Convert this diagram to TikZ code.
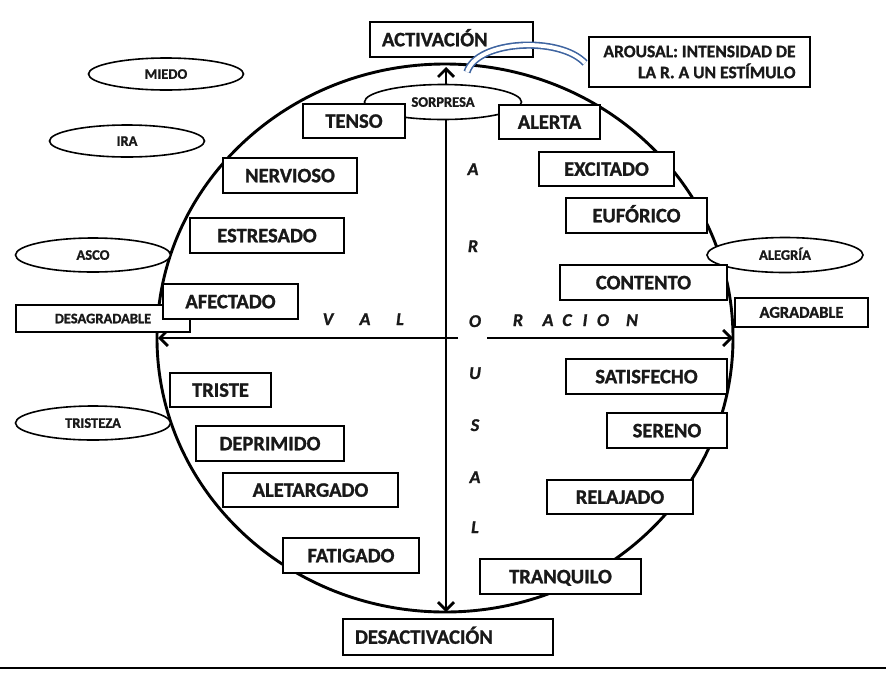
\documentclass[tikz,border=0pt]{standalone}
\usepackage{fontspec}
\setmainfont{Carlito}[BoldFeatures={FakeBold=1.2},BoldItalicFeatures={FakeBold=1.2}]
\usetikzlibrary{arrows.meta,shapes.geometric}
\definecolor{arrowblue}{RGB}{62,100,160}
\definecolor{ink}{RGB}{25,25,25}
\tikzset{
 frame/.style={draw, line width=2.1pt, fill=white, inner sep=0pt, outer sep=0pt, text=ink},
 box/.style={frame, font=\bfseries\fontsize{20.5}{24}\selectfont, text height=13.5pt, text depth=0pt},
 small/.style={frame, line width=1.6pt, font=\bfseries\fontsize{14.5}{16}\selectfont, text height=9.5pt, text depth=0pt},
 emo/.style={draw, ellipse, line width=1.6pt, fill=white, inner sep=0pt, text=ink, font=\bfseries\fontsize{14.5}{16}\selectfont, text height=9.5pt, text depth=0pt},
 barb/.tip={Straight Barb[length=8pt,width=16pt,line width=2.8pt]},
 axis/.style={line width=2.9pt, -barb},
 axisboth/.style={line width=2.9pt, barb-barb},
 ltr/.style={font=\bfseries\itshape\fontsize{18}{20}\selectfont, inner sep=0pt, text height=12pt, text depth=0pt, text=ink},
 rim/.style={line width=2.9pt},
}
\newcommand\mybox[7][box]{\node[#1,minimum width={(#5-#3)*1pt},minimum height={(#6-#4)*1pt}] (#2) at ({(#3+#5)/2},{(#4+#6)/2}) {#7};}
\begin{document}
\begin{tikzpicture}[x=1pt,y=-1pt]
\useasboundingbox (0,0) rectangle (886,673);
% outer circle
\draw[rim] (445,338) ellipse [x radius=288pt, y radius=274pt];
% axes
\coordinate (N) at (446,67);
\coordinate (S) at (446,612);
\coordinate (W) at (158,338);
\coordinate (E) at (733,338);
\coordinate (gl) at (458,338);
\coordinate (gr) at (487,338);
\draw[axisboth] (S) -- (N);
\draw[axis] (gl) -- (W);
\draw[axis] (gr) -- (E);
% bottom rule
\coordinate (r1) at (0,668);
\coordinate (r2) at (886,668);
\draw[line width=2pt] (r1) -- (r2);
% ellipses
\node[emo, minimum width=155pt, minimum height=32pt] (miedo) at (166,74) {MIEDO};
\node[emo, minimum width=155pt, minimum height=32pt] (ira) at (127,141) {IRA};
\node[emo, minimum width=155pt, minimum height=34pt] (asco) at (93,255) {ASCO};
\node[emo, minimum width=155pt, minimum height=34pt] (tristeza) at (93,423) {TRISTEZA};
\node[emo, minimum width=157pt, minimum height=35pt] (sorpresa) at (443,102) {SORPRESA};
\node[emo, minimum width=156pt, minimum height=35pt] (alegria) at (785,255) {ALEGRÍA};
% boxes
\node[box, minimum height=35pt, text width=139pt, inner xsep=12pt, align=left] (act) at (451.5,39.5) {ACTIVACIÓN};
\node[box, minimum height=36pt, text width=186pt, inner xsep=12pt, align=left] (desact) at (448,637) {DESACTIVACIÓN};
\node[frame, minimum width=221pt, minimum height=50pt, align=right,
      font=\bfseries\fontsize{17.5}{21}\selectfont] (arousal) at (699.5,62) {AROUSAL: INTENSIDAD DE\\LA R. A UN ESTÍMULO};
\mybox[small]{desag}{16}{305}{190}{332}{DESAGRADABLE}
\mybox[small,font=\bfseries\fontsize{16.5}{18}\selectfont,text height=10.5pt]{agrad}{735}{298}{868}{327}{AGRADABLE}
\mybox{tenso}{303}{104}{405}{138}{TENSO}
\mybox{alerta}{499}{105}{600}{139}{ALERTA}
\mybox{nervioso}{223}{158}{357}{193}{NERVIOSO}
\mybox{excitado}{539}{152}{674}{186}{EXCITADO}
\mybox{euforico}{566}{198}{707}{233}{EUFÓRICO}
\mybox{estresado}{190}{218}{344}{253}{ESTRESADO}
\mybox{contento}{560}{265}{727}{300}{CONTENTO}
\mybox{afectado}{163}{284}{298}{319}{AFECTADO}
\mybox{satisfecho}{566}{359}{727}{394}{SATISFECHO}
\mybox{triste}{170}{373}{271}{407}{TRISTE}
\mybox{sereno}{607}{413}{727}{448}{SERENO}
\mybox{deprimido}{196}{426}{344}{461}{DEPRIMIDO}
\mybox{aletargado}{223}{473}{398}{507}{ALETARGADO}
\mybox{relajado}{547}{480}{693}{514}{RELAJADO}
\mybox{fatigado}{283}{538}{419}{573}{FATIGADO}
\mybox{tranquilo}{480}{559}{641}{594}{TRANQUILO}
% axis letters
\node[ltr] (a1) at (473,169) {A};
\node[ltr] (a2) at (473,246) {R};
\node[ltr] (a3) at (475,321) {O};
\node[ltr] (a4) at (475,373) {U};
\node[ltr] (a5) at (475,425) {S};
\node[ltr] (a6) at (475,477) {A};
\node[ltr] (a7) at (475,527) {L};
\node[ltr] (v1) at (328,319) {V};
\node[ltr] (v2) at (365,319) {A};
\node[ltr] (v3) at (400,319) {L};
\node[ltr] (r1n) at (518,320) {R};
\node[ltr] (r2n) at (548,320) {A};
\node[ltr] (r3n) at (567,320) {C};
\node[ltr] (r4n) at (585,320) {I};
\node[ltr] (r5n) at (603,320) {O};
\node[ltr] (r6n) at (632,320) {N};
% curved pointer
\coordinate (c0) at (467,72);
\coordinate (c1) at (585,63);
\draw[draw=arrowblue, line width=1.6pt, double=white, double distance=4pt] (c0) .. controls (477,40) and (560,36) .. (c1);
\end{tikzpicture}
\end{document}
